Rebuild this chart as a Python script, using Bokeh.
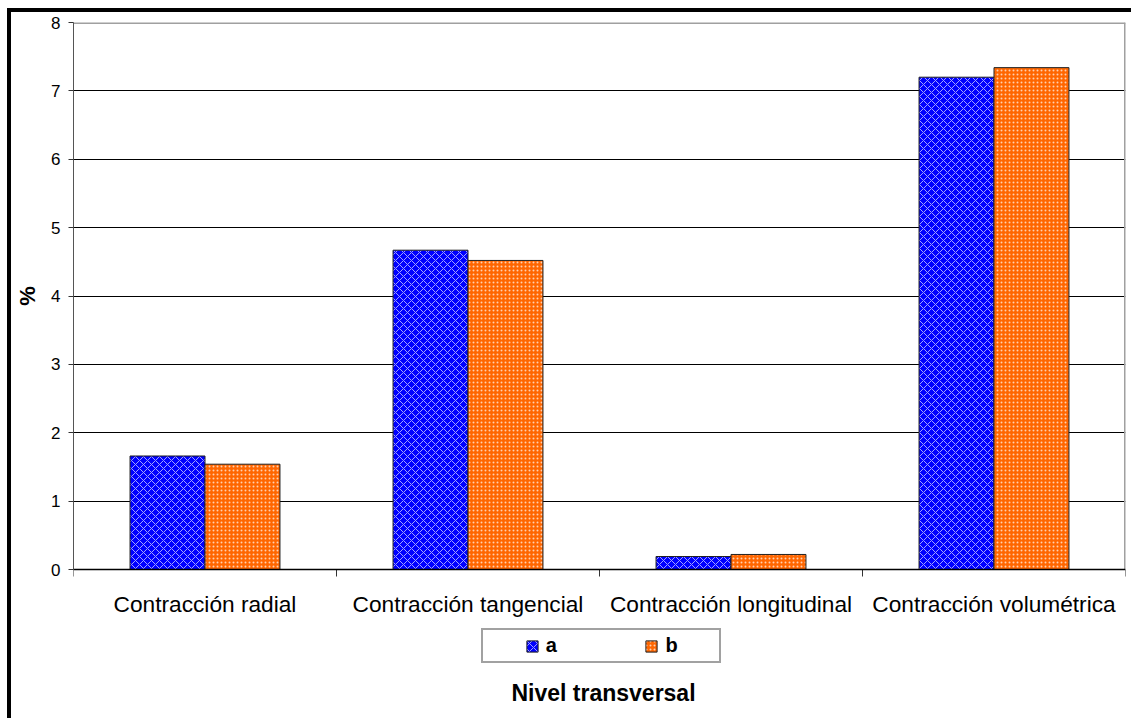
from bokeh.plotting import figure
from bokeh.models import (Range1d, FixedTicker, Legend, LegendItem, Label, LabelSet, Span,
                          ColumnDataSource)
from bokeh.core.properties import value
from bokeh.transform import dodge
from bokeh.embed import file_html
from bokeh.resources import INLINE

# Contracción por tipo, nivel transversal (%)
categories = ["Contracción radial", "Contracción tangencial",
              "Contracción longitudinal", "Contracción volumétrica"]
serie_a = [1.66, 4.67, 0.19, 7.20]
serie_b = [1.54, 4.52, 0.22, 7.34]
y_ticks = [0, 1, 2, 3, 4, 5, 6, 7, 8]

FONT = "Liberation Sans"
NBSP = "\u00a0"

# vertical layout of the frame: the 0–8 scale takes 547 px, with 153 px below it
# for the category names, the legend and the axis title
Y_MAX = 8
SCALE_PX = 547
BELOW_PX = 153
UNITS_PER_PX = Y_MAX / SCALE_PX
Y_MIN = -BELOW_PX * UNITS_PER_PX

# each category occupies one unit on the x scale; its centre sits at i + 0.5
n = len(categories)
centres = [i + 0.5 for i in range(n)]
bounds = list(range(n + 1))
source = ColumnDataSource(dict(pos=centres, cat=categories, serie_a=serie_a, serie_b=serie_b))

p = figure(x_range=Range1d(0, n), y_range=Range1d(Y_MIN, Y_MAX),
           width=1124, height=710,
           min_border_left=62, min_border_right=10, min_border_top=10, min_border_bottom=0,
           x_axis_location=None, output_backend="svg", toolbar_location=None)
p.styles = {"margin-left": "7px", "margin-top": "8px",
            "border-left": "4px solid black", "border-top": "4px solid black"}
p.background_fill_color = "white"
p.border_fill_color = "white"
p.outline_line_color = None

# plot-area edges (top and right) in grey
p.segment(x0=[0, n], y0=[Y_MAX, 0], x1=[n, n], y1=[Y_MAX, Y_MAX],
          line_color="#a0a0a0", line_width=3)

# bars
r_a = p.vbar(x=dodge("pos", -0.1425), top="serie_a", width=0.285,
             source=source, fill_color="#0000ff", line_color="#222222", line_width=1,
             hatch_pattern="diagonal_cross", hatch_color="#a0a0ff", hatch_scale=8,
             hatch_weight=1)
r_b = p.vbar(x=dodge("pos", 0.1425), top="serie_b", width=0.285,
             source=source, fill_color="#ff6600", line_color="#222222", line_width=1,
             hatch_pattern="dot", hatch_color="#ffd0b0", hatch_scale=4,
             hatch_weight=1)
# invisible renderer used to pad the legend entries apart
spacer = p.vbar(x=[], top=[], width=0.1, fill_alpha=0, line_alpha=0)

# y axis (limited to the 0–8 scale) and grid
p.yaxis.bounds = (0, Y_MAX)
p.yaxis.ticker = FixedTicker(ticks=y_ticks)
p.yaxis.major_tick_out = 5
p.yaxis.major_tick_in = 0
p.yaxis.minor_tick_line_color = None
p.yaxis.axis_line_color = "#555555"
p.yaxis.major_tick_line_color = "#333333"
p.yaxis.major_label_text_font = FONT
p.yaxis.major_label_text_font_size = "17px"
p.yaxis.major_label_text_color = "black"
p.yaxis.major_label_standoff = 8
# leading no-break spaces lift the symbol to the middle of the 0–8 scale
p.yaxis.axis_label = NBSP * 25 + "%"
p.yaxis.axis_label_text_font = FONT
p.yaxis.axis_label_text_font_size = "22px"
p.yaxis.axis_label_text_font_style = "bold"
p.yaxis.axis_label_text_color = "black"
p.yaxis.axis_label_standoff = 8
p.ygrid.ticker = FixedTicker(ticks=y_ticks[1:-1])
p.ygrid.grid_line_color = "black"
p.ygrid.grid_line_width = 1
p.xgrid.visible = False

# category axis: base line, short ticks between categories, names under the centres
p.add_layout(Span(location=0, dimension="width", line_color="black", line_width=1.5))
p.segment(x0=bounds, y0=[0] * len(bounds), x1=bounds, y1=[-7 * UNITS_PER_PX] * len(bounds),
          line_color="#333333", line_width=1)
cat_labels = LabelSet(x="pos", y=BELOW_PX - 34, y_units="screen", text="cat", source=source,
                      text_align="center", text_baseline="middle", text_font=value(FONT),
                      text_font_size="22.7px", text_color="black")
p.add_layout(cat_labels)

# legend box under the category names (position in pixels from the frame's bottom-left)
legend = Legend(items=[
    LegendItem(label=value(NBSP * 3), renderers=[spacer]),
    LegendItem(label=value("a"), renderers=[r_a]),
    LegendItem(label=value(NBSP * 12), renderers=[spacer]),
    LegendItem(label=value("b"), renderers=[r_b]),
    LegendItem(label=value(NBSP * 3), renderers=[spacer]),
], orientation="horizontal", location=(408, 59))
legend.padding = 4
legend.spacing = 0
legend.margin = 0
legend.glyph_width = 14
legend.glyph_height = 14
legend.label_standoff = 7
legend.label_width = 0
legend.label_height = 14
legend.label_text_font = FONT
legend.label_text_font_size = "20px"
legend.label_text_font_style = "bold"
legend.label_text_color = "black"
legend.border_line_color = "#444444"
legend.border_line_width = 2
legend.background_fill_color = "white"
p.add_layout(legend, "center")

# x axis title under the legend
x_title = Label(x=530, y=30, x_units="screen", y_units="screen",
                text="Nivel transversal", text_align="center", text_baseline="middle",
                text_font=FONT, text_font_size="23px", text_font_style="bold",
                text_color="black")
p.add_layout(x_title)

open("out.html", "w").write(file_html(p, INLINE))
